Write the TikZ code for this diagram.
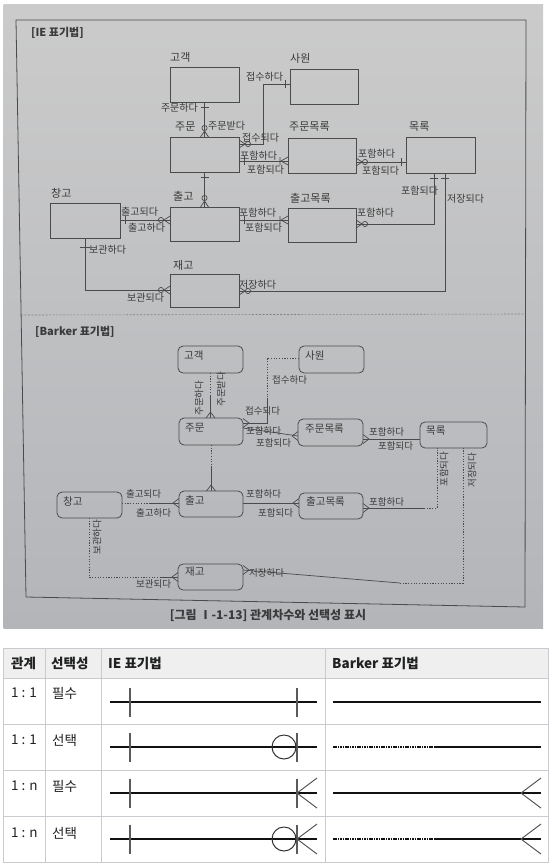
\documentclass[tikz,border=0pt]{standalone}
\usepackage{fontspec}
\setmainfont{Noto Sans CJK KR}
\usetikzlibrary{calc}
\definecolor{lc}{HTML}{4B4B4B}
\definecolor{tc}{HTML}{3A3A3A}
\definecolor{ink}{HTML}{202122}
\definecolor{bd}{HTML}{C8CCD1}
\definecolor{hd}{HTML}{EFEFEF}
\definecolor{ptop}{HTML}{CBCBCB}
\definecolor{pbot}{HTML}{B3B5B9}
\definecolor{tln}{HTML}{111111}
\definecolor{tkc}{HTML}{5A5A5A}
\tikzset{
 iebox/.style={draw=lc, line width=0.8pt, inner sep=0pt, outer sep=0pt, anchor=north west},
 bbox/.style={draw=lc, line width=0.8pt, rounded corners=5pt, inner sep=0pt, outer sep=0pt, anchor=north west},
 ln/.style={draw=lc, line width=0.7pt},
 bdot/.style={draw=lc, line width=0.8pt, dash pattern=on 1.2pt off 1.5pt},
 ttl/.style={text=tc, font=\bfseries\fontsize{11}{11}\selectfont, anchor=west, inner sep=0pt},
 elab/.style={text=tc, font=\fontsize{11}{11}\selectfont, anchor=west, inner sep=0pt},
 rlab/.style={text=tc, font=\fontsize{10}{10}\selectfont, anchor=west, inner sep=0pt},
 blab/.style={text=tc, font=\fontsize{10.5}{10.5}\selectfont, anchor=west, inner sep=0pt},
 brlab/.style={text=tc, font=\fontsize{9.5}{9.5}\selectfont, anchor=west, inner sep=0pt},
 vlab/.style={brlab, anchor=center, rotate=90},
 th/.style={text=ink, font=\bfseries\fontsize{13.5}{13.5}\selectfont, anchor=west, inner sep=0pt},
 td/.style={text=ink, font=\fontsize{13.5}{13.5}\selectfont, anchor=west, inner sep=0pt},
 tl/.style={draw=tln, line width=1.2pt},
 tk/.style={draw=tkc, line width=1.7pt},
 tcr/.style={draw=tkc, line width=1pt},
 tdot/.style={draw=tln, line width=1.1pt, dash pattern=on 1.6pt off 0.8pt},
 grid/.style={draw=bd, line width=0.9pt},
 pics/ieone/.style={code={\draw[ln] (-5,-4)--(-5,4);}},
 pics/iemany/.style={code={\draw[ln] (-7,0)--(0,-4) (-7,0)--(0,4) (-8,-4)--(-8,4);}},
 pics/ieopt/.style={code={\draw[ln] (-6,0)--(0,-4) (-6,0)--(0,4); \draw[ln] (-9,0) circle[radius=2.6pt];}},
 pics/bcrow/.style={code={\draw[ln] (-6,0)--(0,-4.5) (-6,0)--(0,4.5);}},
}
\begin{document}
\begin{tikzpicture}[x=1pt,y=-1pt]
\useasboundingbox (0,0) rectangle (550,868);
\fill[white] (0,0) rectangle (550,868);
\shade[top color=ptop, bottom color=pbot] (3.5,4) rectangle (543,628);
% frame
\draw[lc, line width=0.8pt] (16,20) -- (526,20) -- (525,607) -- (26,597) -- cycle;
\draw[lc!70, line width=0.6pt, dash pattern=on 2pt off 1.5pt] (21,315) -- (525,314);
\node[ttl] (t1) at (31,33) {[IE 표기법]};
\node[ttl] (t2) at (35,332) {[Barker 표기법]};

% ---------------- IE ----------------
\node[iebox, minimum width=69pt, minimum height=35pt] (ko) at (170,67) {};
\node[iebox, minimum width=68pt, minimum height=35pt] (sa) at (290,69) {};
\node[iebox, minimum width=69pt, minimum height=35pt] (ju) at (170,137) {};
\node[iebox, minimum width=68pt, minimum height=35pt] (jm) at (288,138) {};
\node[iebox, minimum width=69pt, minimum height=36pt] (mo) at (406,137) {};
\node[iebox, minimum width=70pt, minimum height=35pt] (ch) at (50,203) {};
\node[iebox, minimum width=69pt, minimum height=34pt] (cg) at (170,207) {};
\node[iebox, minimum width=68pt, minimum height=34pt] (cm) at (288,208) {};
\node[iebox, minimum width=69pt, minimum height=33pt] (je) at (170,274) {};

\node[elab] (kol) at (170,57) {고객};
\node[elab] (sal) at (290,58) {사원};
\node[elab] (jul) at (175,127) {주문};
\node[elab] (jml) at (289,127) {주문목록};
\node[elab] (mol) at (409,127) {목록};
\node[elab] (chl) at (51,193) {창고};
\node[elab] (cgl) at (173,196) {출고};
\node[elab] (cml) at (290,198) {출고목록};
\node[elab] (jel) at (173,265) {재고};

\draw[ln] (ko.south) -- (ju.north);
\pic[rotate=90] at (ko.south) {ieone};
\pic[rotate=-90] at (ju.north) {ieopt};
\node[rlab, anchor=east] (r1) at (198,108) {주문하다};
\node[rlab] (r2) at (208,126) {주문받다};

\draw[ln] (sa.west |- 0,84) -| (263,144) -- (ju.east |- 0,144);
\pic at (sa.west |- 0,84) {ieone};
\pic[rotate=180] at (ju.east |- 0,144) {ieopt};
\node[rlab] (r3) at (246,77) {접수하다};
\node[rlab] (r4) at (242,138) {접수되다};

\draw[ln] (ju.east |- 0,161) -- (jm.west |- 0,161);
\pic[rotate=180] at (ju.east |- 0,161) {ieone};
\pic at (jm.west |- 0,161) {iemany};
\node[rlab] (r5) at (240,156) {포함하다};
\node[rlab] (r6) at (247,170) {포함되다};

\draw[ln] (jm.east |- 0,162) -- (mo.west |- 0,162);
\pic[rotate=180] at (jm.east |- 0,162) {ieopt};
\pic at (mo.west |- 0,162) {ieone};
\node[rlab] (r7) at (358,154) {포함하다};
\node[rlab] (r8) at (362,171) {포함되다};

\draw[ln] (ju.south) -- (cg.north);
\pic[rotate=90] at (ju.south) {ieone};
\pic[rotate=-90] at (cg.north) {ieopt};

\draw[ln] (ch.east |- 0,220) -- (cg.west |- 0,220);
\pic[rotate=180] at (ch.east |- 0,220) {ieone};
\pic at (cg.west |- 0,220) {ieopt};
\node[rlab] (r9) at (121,212) {출고되다};
\node[rlab] (r10) at (128,228) {출고하다};

\draw[ln] (cg.east |- 0,220) -- (cm.west |- 0,220);
\pic[rotate=180] at (cg.east |- 0,220) {ieone};
\pic at (cm.west |- 0,220) {iemany};
\node[rlab] (r11) at (239,213) {포함하다};
\node[rlab] (r12) at (245,228) {포함되다};

\draw[ln] (cm.east |- 0,224) -| (mo.south -| 434,0);
\pic[rotate=180] at (cm.east |- 0,224) {ieopt};
\pic[rotate=90] at (mo.south -| 434,0) {ieone};
\node[rlab] (r13) at (357,213) {포함하다};
\node[rlab] (r14) at (401,191) {포함되다};

\draw[ln] (ch.south -| 85,0) |- (je.west |- 0,290);
\draw[ln] (80,247) -- (90,247);
\pic at (je.west |- 0,290) {ieopt};
\node[rlab] (r15) at (89,250) {보관하다};
\node[rlab] (r16) at (127,298) {보관되다};

\draw[ln] (je.east |- 0,291) -| (mo.south -| 445,0);
\pic[rotate=180] at (je.east |- 0,291) {ieopt};
\pic[rotate=90] at (mo.south -| 445,0) {ieone};
\node[rlab] (r17) at (239,285) {저장하다};
\node[rlab] (r18) at (447,199) {저장되다};

% ---------------- Barker ----------------
\node[bbox, minimum width=65pt, minimum height=27pt] (bko) at (178,346) {};
\node[bbox, minimum width=65pt, minimum height=27pt] (bsa) at (299,346) {};
\node[bbox, minimum width=64pt, minimum height=27pt] (bju) at (179,418) {};
\node[bbox, minimum width=65pt, minimum height=27pt] (bjm) at (298,419) {};
\node[bbox, minimum width=67pt, minimum height=26pt] (bmo) at (420,422) {};
\node[bbox, minimum width=65pt, minimum height=26pt] (bch) at (57,492) {};
\node[bbox, minimum width=64pt, minimum height=26pt] (bcg) at (179,491) {};
\node[bbox, minimum width=64pt, minimum height=26pt] (bcm) at (299,493) {};
\node[bbox, minimum width=65pt, minimum height=26pt] (bje) at (178,564) {};

\node[blab] (bkol) at (184,356) {고객};
\node[blab] (bsal) at (305,356) {사원};
\node[blab] (bjul) at (185,428) {주문};
\node[blab] (bjml) at (305,429) {주문목록};
\node[blab] (bmol) at (426,431) {목록};
\node[blab] (bchl) at (63,502) {창고};
\node[blab] (bcgl) at (185,500) {출고};
\node[blab] (bcml) at (306,502) {출고목록};
\node[blab] (bjel) at (185,572) {재고};

\draw[bdot] (bko.south) -- (bko.south |- 0,396);
\draw[ln] (bko.south |- 0,396) -- (bko.south |- bju.north);
\pic[rotate=-90] at (bko.south |- bju.north) {bcrow};
\node[vlab] (v1) at (199,398) {주문하다};
\node[vlab] (v2) at (221,389) {주문받다};

\draw[bdot] (bsa.west |- 0,358) -| (267,398);
\draw[ln] (267,398) |- (bju.east |- 0,423);
\pic[rotate=180] at (bju.east |- 0,423) {bcrow};
\node[brlab] (b1) at (272,380) {접수하다};
\node[brlab] (b2) at (245,411) {접수되다};

\draw[ln] (bju.east |- 0,428) -- (bjm.west |- 0,436);
\pic at (bjm.west |- 0,436) {bcrow};
\node[brlab] (b3) at (246,431) {포함하다};
\node[brlab] (b4) at (256,443) {포함되다};

\draw[ln] (bjm.east |- 0,439) -- (bmo.west |- 0,439);
\pic[rotate=180] at (bjm.east |- 0,439) {bcrow};
\node[brlab] (b5) at (369,432) {포함하다};
\node[brlab] (b6) at (378,446) {포함되다};

\draw[bdot] (bju.south) -- (bju.south |- 0,466);
\draw[ln] (bju.south |- 0,466) -- (bju.south |- bcg.north);
\pic[rotate=-90] at (bju.south |- bcg.north) {bcrow};

\draw[bdot] (bch.east |- 0,503) -- (150,503);
\draw[ln] (150,503) -- (bcg.west |- 0,503);
\pic at (bcg.west |- 0,503) {bcrow};
\node[brlab] (b7) at (126,494) {출고되다};
\node[brlab] (b8) at (136,513) {출고하다};

\draw[ln] (bcg.east |- 0,503) -- (bcm.west |- 0,503);
\pic at (bcm.west |- 0,503) {bcrow};
\node[brlab] (b9) at (246,494) {포함하다};
\node[brlab] (b10) at (258,513) {포함되다};

\draw[ln] (bcm.east |- 0,508) -- (424,508);
\draw[bdot] (424,508) -| (bmo.south -| 437,0);
\pic[rotate=180] at (bcm.east |- 0,508) {bcrow};
\node[brlab] (b11) at (369,502) {포함하다};
\node[vlab] (v3) at (444,469) {포함되다};

\draw[bdot] (bch.south -| 89,0) |- (160,577);
\draw[ln] (160,577) -- (bje.west |- 0,577);
\pic at (bje.west |- 0,577) {bcrow};
\node[vlab] (v4) at (97,537) {보관하다};
\node[brlab] (b12) at (136,584) {보관되다};

\draw[ln] (bje.east |- 0,570) -- (400,583);
\draw[bdot] (400,583) -| (bmo.south -| 463,0);
\pic[rotate=180] at (bje.east |- 0,570) {bcrow};
\node[brlab] (b13) at (249,573) {저장하다};
\node[vlab] (v5) at (472,470) {저장되다};

\node[text=tc, font=\bfseries\fontsize{12}{12}\selectfont, inner sep=0pt] (cap) at (268,615) {[그림 Ⅰ-1-13] 관계차수와 선택성 표시};

% ---------------- table ----------------
\fill[hd] (3.5,648) rectangle (548,678);
\draw[grid] (3.5,648) rectangle (548,862);
\foreach \yy in {678,724,770,816} \draw[grid] (3.5,\yy) -- (548,\yy);
\foreach \xx in {45,101,325} \draw[grid] (\xx,648) -- (\xx,862);
\node[th] (h1) at (11,663) {관계};
\node[th] (h2) at (51,663) {선택성};
\node[th] (h3) at (108,663) {IE 표기법};
\node[th] (h4) at (332,663) {Barker 표기법};

\node[td] (c11) at (11,693) {1 : 1};
\node[td] (c12) at (52,693) {필수};
\node[td] (c21) at (11,740) {1 : 1};
\node[td] (c22) at (52,740) {선택};
\node[td] (c31) at (11,786) {1 : n};
\node[td] (c32) at (52,786) {필수};
\node[td] (c41) at (11,833) {1 : n};
\node[td] (c42) at (52,833) {선택};

\foreach \yy in {702,747,793,839} {
  \draw[tl] (110,\yy) -- (317,\yy);
  \draw[tk] (130,\yy-14.5) -- (130,\yy+14.5);
  \draw[tk] (297,\yy-14.5) -- (297,\yy+14.5);
}
\foreach \yy in {747,839} \draw[tcr, draw=tln!85] (284,\yy) circle[radius=12pt];
\foreach \yy in {793,839} \draw[tcr] (297,\yy) -- (317,\yy-15) (297,\yy) -- (317,\yy+15);

\draw[tl] (333,702) -- (541,702);
\draw[tdot] (333,747) -- (435,747);
\draw[tl] (435,747) -- (541,747);
\draw[tl] (333,793) -- (541,793);
\draw[tcr] (521,793) -- (541,778) (521,793) -- (541,808);
\draw[tdot] (333,839) -- (435,839);
\draw[tl] (435,839) -- (541,839);
\draw[tcr] (521,839) -- (541,824) (521,839) -- (541,854);
\end{tikzpicture}
\end{document}
